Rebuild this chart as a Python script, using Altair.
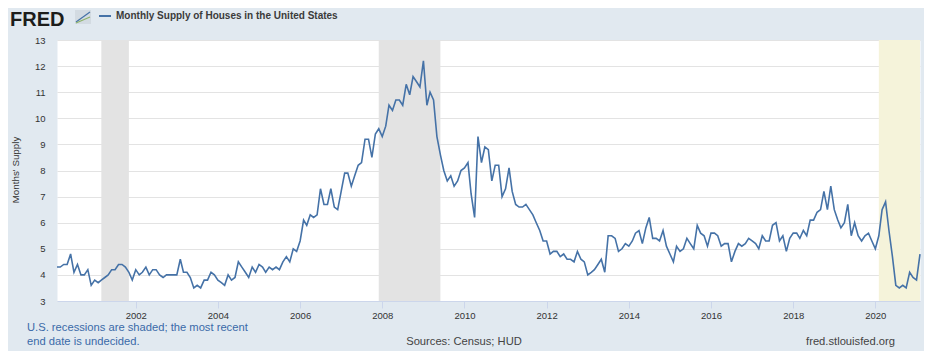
import altair as alt
import pandas as pd

FONT = "Liberation Sans"

# Monthly supply of houses, Feb 2000 .. Feb 2021
months_supply = [
    4.3, 4.3, 4.4, 4.4, 4.8, 4.1, 4.4, 4.0, 4.0, 4.2, 3.6,            # 2000 Feb-Dec
    3.8, 3.7, 3.8, 3.9, 4.0, 4.2, 4.2, 4.4, 4.4, 4.3, 4.1, 3.8,       # 2001
    4.2, 4.0, 4.1, 4.3, 4.0, 4.2, 4.2, 4.0, 3.9, 4.0, 4.0, 4.0,       # 2002
    4.0, 4.6, 4.1, 4.1, 3.9, 3.5, 3.6, 3.5, 3.8, 3.8, 4.1, 4.0,       # 2003
    3.8, 3.7, 3.6, 4.0, 3.8, 3.9, 4.5, 4.3, 4.1, 3.9, 4.3, 4.1,       # 2004
    4.4, 4.3, 4.1, 4.3, 4.2, 4.3, 4.2, 4.5, 4.7, 4.5, 5.0, 4.9,       # 2005
    5.3, 6.1, 5.9, 6.3, 6.2, 6.3, 7.3, 6.7, 6.7, 7.3, 6.6, 6.5,       # 2006
    7.2, 7.9, 7.9, 7.4, 7.8, 8.2, 8.3, 9.2, 9.2, 8.5, 9.4, 9.6,       # 2007
    9.3, 9.7, 10.5, 10.3, 10.7, 10.7, 10.5, 11.3, 10.9, 11.6, 11.4, 11.2,  # 2008
    12.2, 10.5, 11.0, 10.7, 9.3, 8.6, 8.0, 7.6, 7.8, 7.4, 7.6, 8.0,   # 2009
    8.1, 8.3, 7.1, 6.2, 9.3, 8.3, 8.9, 8.8, 7.6, 8.2, 8.2, 7.0,       # 2010
    7.3, 8.1, 7.2, 6.7, 6.6, 6.6, 6.7, 6.5, 6.3, 6.0, 5.7, 5.3,       # 2011
    5.3, 4.8, 4.9, 4.9, 4.7, 4.8, 4.6, 4.6, 4.5, 4.9, 4.6, 4.5,       # 2012
    4.0, 4.1, 4.2, 4.4, 4.6, 4.1, 5.5, 5.5, 5.4, 4.9, 5.0, 5.2,       # 2013
    5.1, 5.3, 5.6, 5.7, 5.2, 5.8, 6.2, 5.4, 5.4, 5.3, 5.7, 5.1,       # 2014
    4.8, 4.5, 5.1, 4.9, 5.0, 5.4, 5.2, 5.0, 5.9, 5.6, 5.5, 5.1,       # 2015
    5.6, 5.6, 5.5, 5.1, 5.2, 5.2, 4.5, 4.9, 5.2, 5.1, 5.2, 5.4,       # 2016
    5.3, 5.2, 5.0, 5.5, 5.3, 5.3, 5.9, 6.0, 5.3, 5.5, 4.9, 5.4,       # 2017
    5.6, 5.6, 5.4, 5.7, 5.5, 6.1, 6.1, 6.4, 6.5, 7.2, 6.5, 7.4,       # 2018
    6.5, 6.1, 5.8, 6.0, 6.7, 5.5, 6.0, 5.5, 5.3, 5.5, 5.6, 5.3,       # 2019
    5.0, 5.5, 6.5, 6.8, 5.7, 4.7, 3.6, 3.5, 3.6, 3.5, 4.1, 3.9,       # 2020
    3.8, 4.8,                                                         # 2021
]
first_month = "2000-02-01"
dates = pd.date_range(first_month, periods=len(months_supply), freq="MS")
df = pd.DataFrame({"date": dates.strftime("%Y-%m-%dT00:00:00"), "value": months_supply})

# Recessions (last one undecided)
rec_start = ["2001-03-01", "2007-12-01", "2020-02-01"]
rec_end = ["2001-11-01", "2009-06-01", "2021-02-01"]
rec_kind = ["past", "past", "undecided"]
rec_df = pd.DataFrame({
    "start": [s + "T00:00:00" for s in rec_start],
    "end": [e + "T00:00:00" for e in rec_end],
    "kind": rec_kind,
})

tick_years = [2002, 2004, 2006, 2008, 2010, 2012, 2014, 2016, 2018, 2020]
y_ticks = [3, 4, 5, 6, 7, 8, 9, 10, 11, 12, 13]

W, H = 863, 261

x_scale = alt.Scale(domain=[alt.DateTime(year=2000, month=2, date=1),
                            alt.DateTime(year=2021, month=2, date=1)])
y_scale = alt.Scale(domain=[3, 13], nice=False, zero=False)

x_axis = alt.Axis(
    values=[alt.DateTime(year=y, month=1, date=1) for y in tick_years],
    format="%Y", grid=False, domainColor="#ccd6eb", domainWidth=1,
    tickColor="#ccd6eb", tickSize=7, labelPadding=2, labelFont=FONT,
    labelFontSize=9.5, labelColor="#333333", labelFlush=False, title=None,
)
y_axis = alt.Axis(
    values=y_ticks, grid=True, gridColor="#e3e3e3", gridWidth=1, domain=False,
    ticks=False, tickSize=0, labelPadding=12, labelFont=FONT, labelFontSize=9.5,
    labelColor="#333333", labelFlush=False, title=None,
)

recessions = alt.Chart(rec_df).mark_rect().encode(
    x=alt.X("start:T", scale=x_scale, axis=x_axis),
    x2="end:T",
    y=alt.value(0),
    y2=alt.value(H),
    color=alt.Color("kind:N", scale=alt.Scale(domain=["past", "undecided"],
                                              range=["#e3e3e3", "#f5f3da"]),
                    legend=None),
)

line = alt.Chart(df).mark_line(color="#4572a7", strokeWidth=1.6).encode(
    x=alt.X("date:T", scale=x_scale, axis=x_axis),
    y=alt.Y("value:Q", scale=y_scale, axis=y_axis),
)


def label(text, x, y, size, color, weight="normal", align="left",
          baseline="alphabetic", angle=0):
    return alt.Chart(alt.Data(values=[{}])).mark_text(
        text=text, align=align, baseline=baseline, fontSize=size, font=FONT,
        color=color, fontWeight=weight, angle=angle,
    ).encode(x=alt.value(x), y=alt.value(y))


def seg(x, y, x2, y2, color, width):
    return alt.Chart(alt.Data(values=[{}])).mark_rule(
        color=color, strokeWidth=width
    ).encode(x=alt.value(x), y=alt.value(y), x2=alt.value(x2), y2=alt.value(y2))


icon_box = alt.Chart(alt.Data(values=[{}])).mark_rect(color="#d3dbe2").encode(
    x=alt.value(18), x2=alt.value(34), y=alt.value(-30), y2=alt.value(-16)
)

texts = [
    label("FRED", -47, -14, 20, "#1d1d1b", weight="bold"),
    label("Monthly Supply of Houses in the United States", 59, -24, 10,
          "#3b3b3b", weight="bold", baseline="middle"),
    label("Months' Supply", -41, 130, 9.8, "#333333", align="center",
          baseline="middle", angle=270),
    label("U.S. recessions are shaded; the most recent", -30, 291, 11.2, "#3a6aa8"),
    label("end date is undecided.", -30, 305, 11.2, "#3a6aa8"),
    label("Sources: Census; HUD", 407, 305, 11.2, "#444444", align="center"),
    label("fred.stlouisfed.org", 838, 305, 11.2, "#444444", align="right"),
]

chart = alt.layer(
    recessions,
    line,
    icon_box,
    seg(19, -18, 33, -28, "#4572a7", 1.2),
    seg(19, -17, 33, -23, "#8db36a", 1.2),
    seg(42, -24, 54, -24, "#4572a7", 2),
    *texts,
).properties(
    width=W, height=H,
    autosize=alt.AutoSizeParams(type="none"),
    padding={"left": 49, "top": 32, "right": 4, "bottom": 50},
    background="#e1e9f0",
).configure_view(
    fill="white", stroke="transparent"
)

chart.save("out.html", embed_options={"renderer": "svg", "actions": False})
